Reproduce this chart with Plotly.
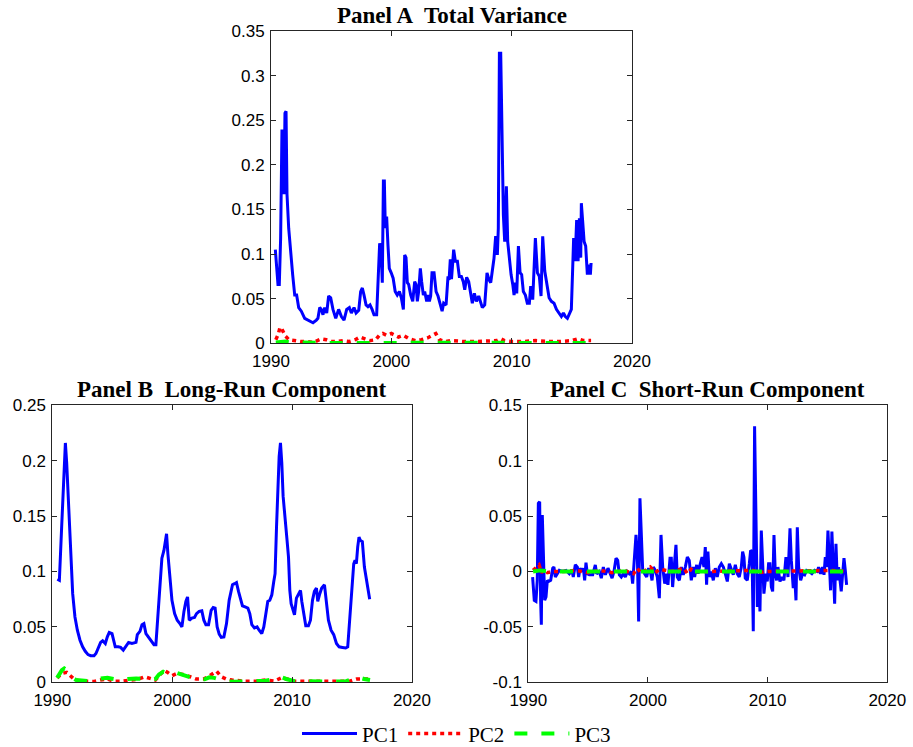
import plotly.graph_objects as go

# ---------------- Panel A: Total Variance ----------------
a_pc1_year = [1990.36,1990.58,1990.69,1990.80,1990.91,1991.00,1991.08,1991.16,1991.25,1991.33,1991.47,1991.63,1991.80,1991.97,
              1992.13,1992.30,1992.52,1992.80,1993.07,1993.49,1993.77,1993.90,1994.05,1994.18,1994.32,1994.46,1994.63,1994.79,
              1994.96,1995.15,1995.38,1995.62,1995.85,1996.07,1996.29,1996.51,1996.68,1996.90,1997.07,1997.29,1997.45,1997.59,
              1997.73,1997.90,1998.06,1998.23,1998.40,1998.56,1998.78,1998.89,1999.03,1999.14,1999.25,1999.34,1999.42,1999.50,
              1999.61,1999.72,1999.83,1999.99,2000.15,2000.32,2000.49,2000.67,2000.83,2001.00,2001.11,2001.22,2001.33,2001.44,
              2001.61,2001.78,2001.94,2002.05,2002.16,2002.27,2002.41,2002.52,2002.66,2002.77,2002.94,2003.05,2003.16,2003.27,
              2003.38,2003.55,2003.72,2003.88,2004.05,2004.22,2004.35,2004.55,2004.71,2004.80,2004.90,2005.00,2005.18,2005.32,
              2005.49,2005.65,2005.82,2005.98,2006.10,2006.26,2006.43,2006.57,2006.73,2006.90,2007.07,2007.26,2007.40,2007.56,
              2007.76,2007.95,2008.12,2008.26,2008.37,2008.53,2008.67,2008.81,2008.89,2008.98,2009.09,2009.20,2009.31,2009.42,
              2009.56,2009.67,2009.81,2009.95,2010.09,2010.20,2010.31,2010.42,2010.56,2010.70,2010.83,2010.97,2011.14,2011.30,
              2011.47,2011.58,2011.75,2011.97,2012.14,2012.30,2012.44,2012.58,2012.75,2012.91,2013.11,2013.30,2013.52,2013.72,
              2013.91,2014.13,2014.30,2014.46,2014.63,2014.80,2014.96,2015.07,2015.15,2015.27,2015.40,2015.52,2015.63,2015.74,
              2015.79,2015.90,2016.02,2016.15,2016.29,2016.43,2016.54,2016.60]
a_pc1 = [0.105,0.066,0.066,0.118,0.238,0.238,0.167,0.258,0.260,0.167,0.129,0.100,0.077,0.054,
         0.054,0.040,0.036,0.028,0.026,0.023,0.026,0.028,0.040,0.038,0.032,0.040,0.034,0.053,
         0.051,0.038,0.028,0.038,0.030,0.026,0.038,0.040,0.034,0.040,0.034,0.037,0.058,0.062,
         0.054,0.043,0.041,0.043,0.038,0.032,0.032,0.077,0.112,0.107,0.068,0.182,0.182,0.129,
         0.142,0.110,0.084,0.079,0.073,0.058,0.054,0.058,0.051,0.038,0.099,0.096,0.068,0.066,
         0.054,0.047,0.069,0.066,0.047,0.058,0.084,0.069,0.054,0.058,0.047,0.054,0.047,0.053,
         0.079,0.079,0.058,0.053,0.043,0.036,0.045,0.043,0.075,0.071,0.094,0.072,0.105,0.092,
         0.092,0.075,0.075,0.069,0.060,0.074,0.069,0.058,0.045,0.056,0.047,0.053,0.047,0.040,
         0.043,0.079,0.071,0.068,0.079,0.095,0.120,0.099,0.129,0.325,0.325,0.223,0.144,0.114,
         0.176,0.114,0.092,0.077,0.066,0.054,0.068,0.056,0.109,0.079,0.077,0.058,0.054,0.045,
         0.045,0.064,0.049,0.118,0.079,0.075,0.053,0.120,0.081,0.069,0.051,0.047,0.045,0.038,
         0.034,0.030,0.034,0.030,0.028,0.034,0.038,0.084,0.118,0.092,0.138,0.092,0.140,0.096,
         0.157,0.137,0.114,0.109,0.077,0.088,0.077,0.090]

a_pc2_year = [1990.4,1990.6,1990.75,1990.9,1991.05,1991.2,1991.5,1992.0,1992.5,1993.0,1993.5,1994.2,1994.6,1995.0,1995.5,
              1996.0,1996.5,1997.0,1997.4,1997.8,1998.2,1998.7,1999.0,1999.3,1999.6,2000.0,2000.3,2000.6,2001.0,2001.5,
              2002.0,2002.5,2003.0,2003.4,2003.7,2004.0,2004.5,2005.0,2006.0,2007.0,2008.0,2008.8,2009.1,2009.4,2010.0,
              2011.0,2012.0,2013.0,2014.0,2015.0,2015.5,2016.0,2016.6]
a_pc2 = [0.004,0.010,0.018,0.016,0.012,0.008,0.004,0.003,0.002,0.002,0.001,0.005,0.004,0.002,0.002,
         0.003,0.002,0.004,0.007,0.005,0.003,0.004,0.009,0.011,0.009,0.011,0.009,0.007,0.009,0.005,
         0.003,0.004,0.006,0.009,0.011,0.004,0.002,0.003,0.002,0.002,0.003,0.003,0.005,0.003,0.002,
         0.002,0.003,0.002,0.002,0.003,0.005,0.003,0.003]

a_pc3_year = [1990.4,1990.9,1991.2,1991.6,1992.5,1994.0,1996.0,1998.0,1999.3,2000.5,2003.0,2006.0,2009.0,2012.0,2015.5,2016.6]
a_pc3 = [0.001,0.002,0.002,0.001,0.0005,0.0005,0.0004,0.0005,0.0008,0.0006,0.0004,0.0003,0.0006,0.0003,0.0006,0.0004]

# ---------------- Panel B: Long-Run Component ----------------
b_pc1_year = [1990.42,1990.59,1990.78,1990.98,1991.09,1991.20,1991.36,1991.53,1991.70,1991.89,1992.09,1992.31,1992.53,1992.75,
              1992.98,1993.20,1993.48,1993.64,1993.84,1994.03,1994.20,1994.42,1994.59,1994.75,1994.98,1995.14,1995.25,1995.50,
              1995.70,1995.92,1996.14,1996.36,1996.64,1996.98,1997.09,1997.31,1997.48,1997.64,1997.81,1998.03,1998.25,1998.48,
              1998.64,1998.81,1998.98,1999.14,1999.31,1999.42,1999.53,1999.64,1999.81,1999.98,2000.20,2000.42,2000.64,2000.81,
              2000.98,2001.14,2001.28,2001.42,2001.64,2001.86,2002.03,2002.25,2002.47,2002.64,2002.81,2003.03,2003.25,2003.42,
              2003.58,2003.75,2003.92,2004.09,2004.31,2004.53,2004.75,2004.94,2005.03,2005.20,2005.36,2005.53,2005.70,2005.86,
              2006.08,2006.31,2006.47,2006.64,2006.86,2007.08,2007.25,2007.47,2007.64,2007.81,2007.97,2008.14,2008.31,2008.47,
              2008.58,2008.70,2008.81,2008.92,2009.03,2009.14,2009.25,2009.42,2009.58,2009.70,2009.81,2009.92,2010.08,2010.20,
              2010.36,2010.53,2010.70,2010.81,2010.97,2011.14,2011.36,2011.53,2011.70,2011.86,2012.03,2012.14,2012.31,2012.47,
              2012.70,2012.86,2013.03,2013.25,2013.47,2013.70,2013.92,2014.20,2014.47,2014.64,2014.81,2014.97,2015.14,2015.25,
              2015.36,2015.47,2015.58,2015.70,2015.86,2016.03,2016.20,2016.31,2016.47]
b_pc1 = [0.093,0.092,0.140,0.198,0.216,0.198,0.155,0.113,0.080,0.059,0.047,0.038,0.032,0.028,
         0.025,0.024,0.024,0.026,0.032,0.036,0.0375,0.035,0.041,0.045,0.044,0.035,0.032,0.032,
         0.0315,0.029,0.033,0.036,0.035,0.036,0.043,0.046,0.052,0.053,0.044,0.041,0.038,0.034,
         0.034,0.062,0.083,0.112,0.119,0.128,0.134,0.116,0.092,0.074,0.062,0.056,0.053,0.050,
         0.064,0.073,0.077,0.056,0.058,0.0585,0.062,0.064,0.0645,0.056,0.052,0.052,0.065,0.0675,
         0.067,0.050,0.0435,0.0405,0.041,0.053,0.074,0.086,0.088,0.089,0.090,0.082,0.076,0.069,
         0.068,0.067,0.062,0.052,0.049,0.050,0.047,0.044,0.050,0.062,0.073,0.074,0.079,0.091,
         0.098,0.140,0.177,0.204,0.216,0.198,0.168,0.143,0.128,0.113,0.083,0.071,0.064,0.061,
         0.076,0.080,0.083,0.073,0.062,0.051,0.051,0.056,0.074,0.082,0.085,0.073,0.080,0.085,
         0.088,0.070,0.056,0.047,0.043,0.035,0.032,0.0315,0.031,0.032,0.059,0.086,0.107,0.110,
         0.107,0.122,0.131,0.128,0.127,0.104,0.092,0.083,0.075]

b_pc2_year = [1990.4,1990.8,1991.2,1991.5,1991.8,1992.3,1993.0,1993.5,1994.0,1994.6,1995.1,1995.8,1996.5,1997.2,1997.7,
              1998.2,1998.6,1999.0,1999.3,1999.6,2000.0,2000.4,2000.9,2001.5,2002.0,2002.6,2003.0,2003.4,2003.7,2004.1,
              2004.5,2005.0,2006.0,2007.0,2007.8,2008.5,2009.1,2009.6,2010.2,2011.0,2012.0,2013.0,2014.0,2014.8,2015.4,
              2015.9,2016.5]
b_pc2 = [0.004,0.008,0.009,0.006,0.003,0.001,0.0005,0.0008,0.002,0.003,0.001,0.001,0.002,0.003,0.005,
         0.003,0.002,0.007,0.011,0.009,0.006,0.008,0.007,0.005,0.003,0.003,0.005,0.008,0.010,0.005,
         0.003,0.002,0.001,0.001,0.002,0.001,0.004,0.003,0.001,0.001,0.001,0.001,0.001,0.001,0.003,
         0.003,0.003]

b_pc3_year = [1990.4,1990.6,1990.8,1991.0,1991.15,1991.4,1991.7,1992.0,1992.5,1993.0,1993.5,1994.0,1994.6,1995.1,1995.6,
              1996.3,1997.0,1997.6,1998.2,1998.6,1998.9,1999.25,1999.6,2000.1,2000.5,2001.0,2001.5,2002.0,2002.7,2003.1,
              2003.5,2004.0,2004.5,2005.2,2006.0,2007.0,2007.8,2008.5,2009.0,2009.5,2010.2,2011.3,2012.5,2013.5,2014.5,
              2015.0,2015.5,2016.0,2016.5]
b_pc3 = [0.004,0.008,0.011,0.0126,0.0115,0.008,0.004,0.002,0.0015,0.001,0.0015,0.0035,0.004,0.003,0.002,
         0.003,0.0035,0.003,0.002,0.003,0.007,0.0095,0.008,0.0095,0.008,0.006,0.004,0.0027,0.0027,0.0045,
         0.004,0.0025,0.0008,0.0005,0.001,0.001,0.0015,0.003,0.005,0.003,0.001,0.001,0.0006,0.0006,0.001,
         0.003,0.0045,0.003,0.002]

# ---------------- Panel C: Short-Run Component ----------------
c_pc1_year = [1990.36,1990.50,1990.64,1990.75,1990.84,1990.95,1991.03,1991.09,1991.17,1991.26,1991.37,1991.48,1991.59,1991.70,
              1991.87,1992.04,1992.14,1992.26,1992.42,1992.59,1992.87,1993.15,1993.43,1993.65,1993.76,1993.93,1994.10,1994.21,
              1994.32,1994.49,1994.60,1994.71,1994.82,1994.93,1995.10,1995.38,1995.60,1995.71,1995.94,1996.10,1996.27,1996.44,
              1996.66,1996.83,1997.00,1997.16,1997.33,1997.47,1997.61,1997.77,1997.94,1998.11,1998.27,1998.44,1998.61,1998.72,
              1998.83,1999.00,1999.11,1999.22,1999.33,1999.45,1999.56,1999.72,1999.89,2000.06,2000.23,2000.34,2000.45,2000.61,
              2000.78,2000.95,2001.09,2001.23,2001.40,2001.51,2001.67,2001.84,2001.95,2002.06,2002.23,2002.34,2002.45,2002.62,
              2002.79,2002.95,2003.12,2003.29,2003.45,2003.62,2003.79,2003.90,2004.07,2004.18,2004.35,2004.52,2004.68,2004.79,
              2004.90,2005.01,2005.13,2005.29,2005.46,2005.63,2005.79,2005.96,2006.13,2006.30,2006.46,2006.63,2006.80,2006.96,
              2007.13,2007.30,2007.46,2007.63,2007.80,2007.91,2008.02,2008.13,2008.30,2008.47,2008.58,2008.69,2008.80,2008.91,
              2009.02,2009.14,2009.25,2009.36,2009.47,2009.58,2009.69,2009.86,2009.97,2010.08,2010.19,2010.31,2010.42,2010.53,
              2010.64,2010.75,2010.86,2011.03,2011.20,2011.36,2011.53,2011.70,2011.87,2011.98,2012.14,2012.25,2012.37,2012.48,
              2012.59,2012.76,2012.92,2013.09,2013.26,2013.48,2013.70,2013.93,2014.15,2014.26,2014.43,2014.59,2014.71,2014.82,
              2014.93,2015.04,2015.15,2015.26,2015.37,2015.48,2015.60,2015.71,2015.82,2015.93,2016.04,2016.15,2016.27,2016.38,
              2016.49,2016.60]
c_pc1 = [-0.005,-0.026,-0.027,-0.008,0.0615,0.063,-0.026,-0.048,0.051,0.016,-0.026,-0.023,-0.008,-0.009,
         -0.008,0.003,0.004,-0.005,-0.002,0.001,0.000,0.001,-0.002,0.001,-0.005,0.006,0.004,-0.005,
         0.003,0.000,0.003,-0.008,0.008,-0.002,-0.003,-0.003,0.006,-0.002,0.000,-0.006,0.004,-0.003,
         0.003,-0.002,-0.006,0.000,0.012,0.010,-0.003,-0.005,-0.002,-0.005,0.000,-0.002,0.000,-0.011,
         0.004,0.033,0.016,-0.045,0.066,0.034,0.001,-0.002,-0.005,0.003,-0.002,-0.008,0.004,0.001,
         -0.005,-0.024,0.033,0.004,-0.011,-0.002,-0.012,0.012,0.012,-0.014,0.010,0.024,-0.005,-0.008,
         0.004,-0.003,0.004,0.013,0.010,-0.008,0.004,-0.005,0.006,-0.002,0.006,0.013,0.004,0.022,
         -0.012,0.018,-0.005,0.000,-0.008,0.003,-0.005,0.004,0.007,0.004,-0.002,-0.009,0.007,0.001,
         -0.003,0.006,-0.002,-0.005,0.004,0.018,0.013,-0.006,-0.008,0.007,0.019,0.018,-0.054,0.131,
         0.034,-0.032,-0.002,-0.036,0.037,0.004,-0.020,-0.002,-0.009,0.007,0.007,-0.014,-0.018,0.033,
         -0.002,-0.008,0.004,-0.009,-0.005,-0.008,0.013,-0.005,0.039,0.010,-0.015,-0.002,-0.026,0.040,
         0.004,-0.008,-0.002,-0.003,0.001,0.000,-0.002,0.001,0.000,0.004,-0.002,0.004,-0.003,0.013,
         0.004,0.037,0.010,-0.017,0.036,0.001,-0.029,0.025,-0.008,0.004,-0.008,-0.018,-0.002,0.012,
         0.001,-0.012]

c_pc2_year = [1990.4,1990.7,1990.9,1991.1,1991.3,1991.6,1992.0,1993.0,1994.0,1995.0,1996.0,1997.0,1998.0,1998.8,1999.1,
              1999.4,1999.8,2000.2,2000.6,2001.0,2002.0,2003.0,2003.3,2003.6,2004.0,2005.0,2008.8,2009.2,2010.0,2015.3,
              2016.6]
c_pc2 = [0.001,0.004,0.006,-0.001,0.002,-0.001,0.000,0.000,0.001,-0.001,0.001,-0.001,0.001,-0.002,0.003,
         -0.001,0.001,0.004,-0.001,0.002,0.000,0.003,-0.002,0.002,0.000,0.000,0.001,-0.001,0.000,0.001,
         0.000]

c_pc3_year = [1990.4,1991.0,1992.0,1995.0,2000.0,2005.0,2010.0,2015.0,2016.6]
c_pc3 = [0.000,0.001,0.000,0.000,0.000,0.000,0.000,0.000,0.000]

series_names = ["PC1", "PC2", "PC3"]
x_ticks = [1990, 2000, 2010, 2020]
a_yticks = [0, 0.05, 0.1, 0.15, 0.2, 0.25, 0.3, 0.35]
a_ytext = ["0", "0.05", "0.1", "0.15", "0.2", "0.25", "0.3", "0.35"]
b_yticks = [0, 0.05, 0.1, 0.15, 0.2, 0.25]
b_ytext = ["0", "0.05", "0.1", "0.15", "0.2", "0.25"]
c_yticks = [-0.1, -0.05, 0, 0.05, 0.1, 0.15]
c_ytext = ["-0.1", "-0.05", "0", "0.05", "0.1", "0.15"]
titles = ["Panel A\u00a0 Total Variance", "Panel B\u00a0 Long-Run Component", "Panel C\u00a0 Short-Run Component"]

W, H = 913, 747
styles = [
    dict(color="#0000FF", width=3),
    dict(color="#FF0000", width=3.5, dash="4px,4px"),
    dict(color="#00FF00", width=4, dash="13px,14px"),
]

fig = go.Figure()
panels = [
    ("x", "y", [(a_pc1_year, a_pc1), (a_pc2_year, a_pc2), (a_pc3_year, a_pc3)], True),
    ("x2", "y2", [(b_pc1_year, b_pc1), (b_pc2_year, b_pc2), (b_pc3_year, b_pc3)], False),
    ("x3", "y3", [(c_pc1_year, c_pc1), (c_pc2_year, c_pc2), (c_pc3_year, c_pc3)], False),
]
for xa, ya, data, show in panels:
    for i, (xs, ys) in enumerate(data):
        fig.add_trace(go.Scatter(x=xs, y=ys, mode="lines", name=series_names[i], line=styles[i],
                                 xaxis=xa, yaxis=ya, showlegend=show, hoverinfo="skip"))

def px_dom_x(a, b):
    return [a / W, b / W]

def px_dom_y(top, bottom):
    return [1 - bottom / H, 1 - top / H]

axis_common = dict(showline=True, linecolor="#262626", linewidth=1, mirror="ticks", ticks="inside",
                   ticklen=5, tickcolor="#262626", showgrid=False, zeroline=False, automargin=False,
                   ticklabelstandoff=2,
                   tickfont=dict(family="Liberation Sans, Arial, sans-serif", size=17, color="black"))

dA_x, dA_y = px_dom_x(271, 632), px_dom_y(31, 343.3)
dB_x, dB_y = px_dom_x(52.3, 412), px_dom_y(405.3, 682.3)
dC_x, dC_y = px_dom_x(528.3, 887.3), px_dom_y(405.3, 682.3)

fig.update_layout(
    template="none",
    width=W, height=H, margin=dict(l=0, r=0, t=0, b=0, autoexpand=False),
    paper_bgcolor="white", plot_bgcolor="white",
    xaxis=dict(domain=dA_x, anchor="y", range=[1990, 2020], tickvals=x_ticks, **axis_common),
    yaxis=dict(domain=dA_y, anchor="x", range=[0, 0.35], tickvals=a_yticks, ticktext=a_ytext, **axis_common),
    xaxis2=dict(domain=dB_x, anchor="y2", range=[1990, 2020], tickvals=x_ticks, **axis_common),
    yaxis2=dict(domain=dB_y, anchor="x2", range=[0, 0.25], tickvals=b_yticks, ticktext=b_ytext, **axis_common),
    xaxis3=dict(domain=dC_x, anchor="y3", range=[1990, 2020], tickvals=x_ticks, **axis_common),
    yaxis3=dict(domain=dC_y, anchor="x3", range=[-0.1, 0.15], tickvals=c_yticks, ticktext=c_ytext, **axis_common),
    legend=dict(orientation="h", x=0.5, xanchor="center", y=-0.01, yanchor="bottom", itemwidth=55,
                font=dict(family="Liberation Serif, Times New Roman, serif", size=21, color="black"),
                bgcolor="rgba(0,0,0,0)"),
    showlegend=True,
)

title_font = dict(family="Liberation Serif, Times New Roman, serif", size=23, color="black")
for dx, dy, t in [(dA_x, dA_y, titles[0]), (dB_x, dB_y, titles[1]), (dC_x, dC_y, titles[2])]:
    fig.add_annotation(text="<b>" + t + "</b>", xref="paper", yref="paper", x=(dx[0] + dx[1]) / 2, y=dy[1],
                       xanchor="center", yanchor="bottom", yshift=1, showarrow=False, font=title_font)

fig.write_html("out.html", config={"displayModeBar": False},
               post_script="document.body.style.margin='0px';")
